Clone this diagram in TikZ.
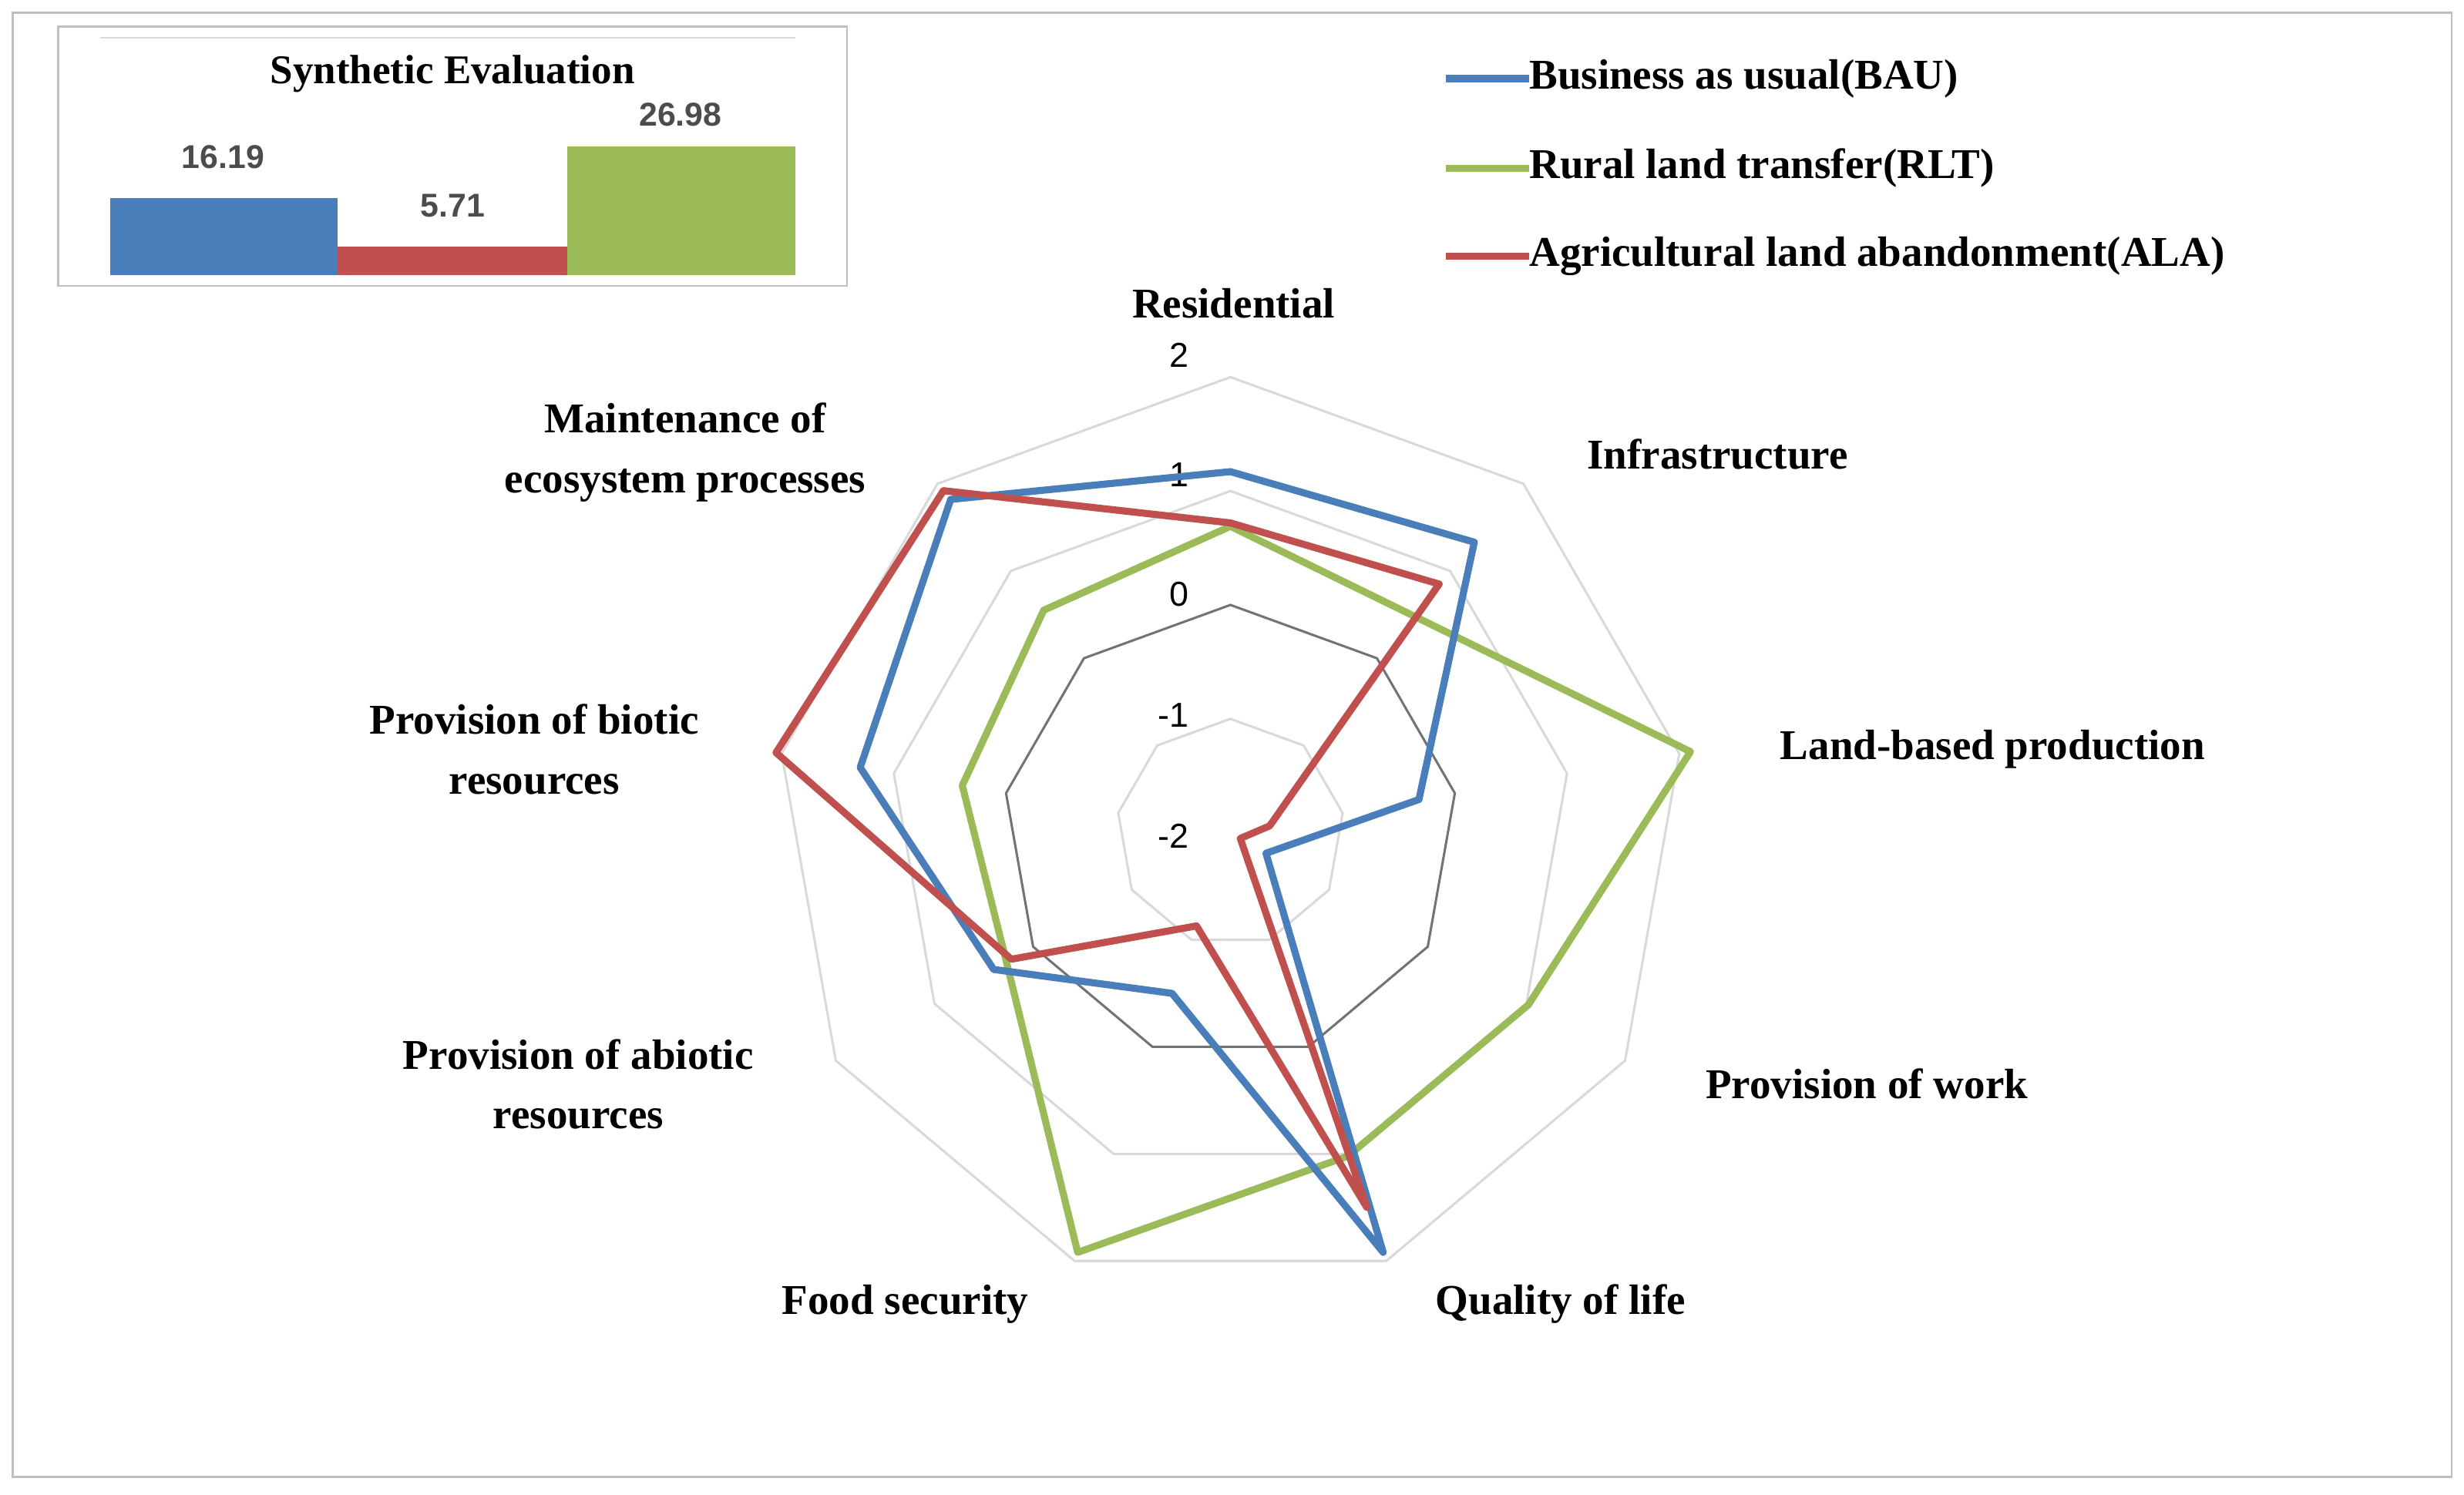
\documentclass[tikz,border=0pt]{standalone}
\usepackage{fontspec}
\setmainfont{Liberation Serif}
\setsansfont{Liberation Sans}
\usetikzlibrary{calc}
\definecolor{bau}{RGB}{74,126,187}
\definecolor{rlt}{RGB}{155,187,89}
\definecolor{ala}{RGB}{192,80,77}
\tikzset{
 lab/.style={font=\fontsize{27}{38}\selectfont\bfseries,align=center,text=black},
 ring/.style={draw=black!15,line width=1.5pt},
 series/.style={line width=4.5pt,line join=round},
 tick/.style={font=\sffamily\fontsize{22}{24}\selectfont,anchor=east},
 barval/.style={font=\sffamily\bfseries\fontsize{21}{24}\selectfont,text=black!70}
}
\begin{document}
\begin{tikzpicture}[x=1pt,y=1pt]
\useasboundingbox (0,0) rectangle (1568,-951);
\draw[black!25,line width=1.2pt] (8,-8) rectangle (1560,-940);
\coordinate (C) at (783,-530);
% rings
\foreach \r/\c in {72.5/black!15,145/black!55,217.5/black!15,290/black!15}{
 \draw[draw=\c,line width=1.5pt] ($(C)+(90:\r)$) \foreach \k in {1,...,8}{ -- ($(C)+({90-40*\k}:\r)$)} -- cycle;
}
\foreach \t/\y in {2/226,1/302,0/378,-1/455,-2/532} \node[tick] (t\t) at (760,-\y) {\t};
% data
\foreach \v [count=\i from 0] in {0.69,0.49,2.1,1.02,1.02,1.92,0.27,0.39,0.55}
 \coordinate (g\i) at ($(C)+({90-40*\i}:{(\v+2)*72.5})$);
\foreach \v [count=\i from 0] in {1.17,1.33,-0.32,-1.64,1.92,-0.5,0.4,1.3,1.82}
 \coordinate (b\i) at ($(C)+({90-40*\i}:{(\v+2)*72.5})$);
\foreach \v [count=\i from 0] in {0.72,0.85,-1.65,-1.9,1.5,-1.13,0.22,2.05,1.92}
 \coordinate (a\i) at ($(C)+({90-40*\i}:{(\v+2)*72.5})$);
\draw[series,rlt] (g0)--(g1)--(g2)--(g3)--(g4)--(g5)--(g6)--(g7)--(g8)--cycle;
\draw[series,bau] (b0)--(b1)--(b2)--(b3)--(b4)--(b5)--(b6)--(b7)--(b8)--cycle;
\draw[series,ala] (a0)--(a1)--(a2)--(a3)--(a4)--(a5)--(a6)--(a7)--(a8)--cycle;
% axis labels
\node[lab] (l0) at (785,-193) {Residential};
\node[lab] (l1) at (1093,-289) {Infrastructure};
\node[lab] (l2) at (1268,-477) {Land-based production};
\node[lab] (l3) at (1188,-690) {Provision of work};
\node[lab] (l4) at (993,-830) {Quality of life};
\node[lab] (l5) at (576,-830) {Food security};
\node[lab] (l6) at (368,-690) {Provision of abiotic\\resources};
\node[lab] (l7) at (340,-477) {Provision of biotic\\resources};
\node[lab] (l8) at (436,-288) {Maintenance of\\ecosystem processes};
% legend
\foreach \n/\c/\y/\txt in {lb/bau/50/Business as usual(BAU),lg/rlt/107/Rural land transfer(RLT),la/ala/163/Agricultural land abandonment(ALA)}{
 \coordinate (\n s) at (920,-\y);
 \node[lab,anchor=west,inner sep=0pt] (\n) at (973,-\y) {\txt};
 \draw[\c,line width=4.5pt] (\n s) -- (\n.west);
}
% inset
\draw[black!25,line width=1.2pt,fill=white] (37,-17) rectangle (539,-182);
\draw[black!15,line width=1pt] (64,-24) -- (506,-24);
\node[font=\fontsize{26}{30}\selectfont\bfseries] (st) at (288,-47) {Synthetic Evaluation};
\fill[bau] (70,-175) rectangle (215,-126);
\fill[ala] (215,-175) rectangle (361,-157);
\fill[rlt] (361,-175) rectangle (506,-93);
\node[barval] (v1) at (142,-100) {16.19};
\node[barval] (v2) at (288,-131) {5.71};
\node[barval] (v3) at (433,-73) {26.98};
\end{tikzpicture}
\end{document}
